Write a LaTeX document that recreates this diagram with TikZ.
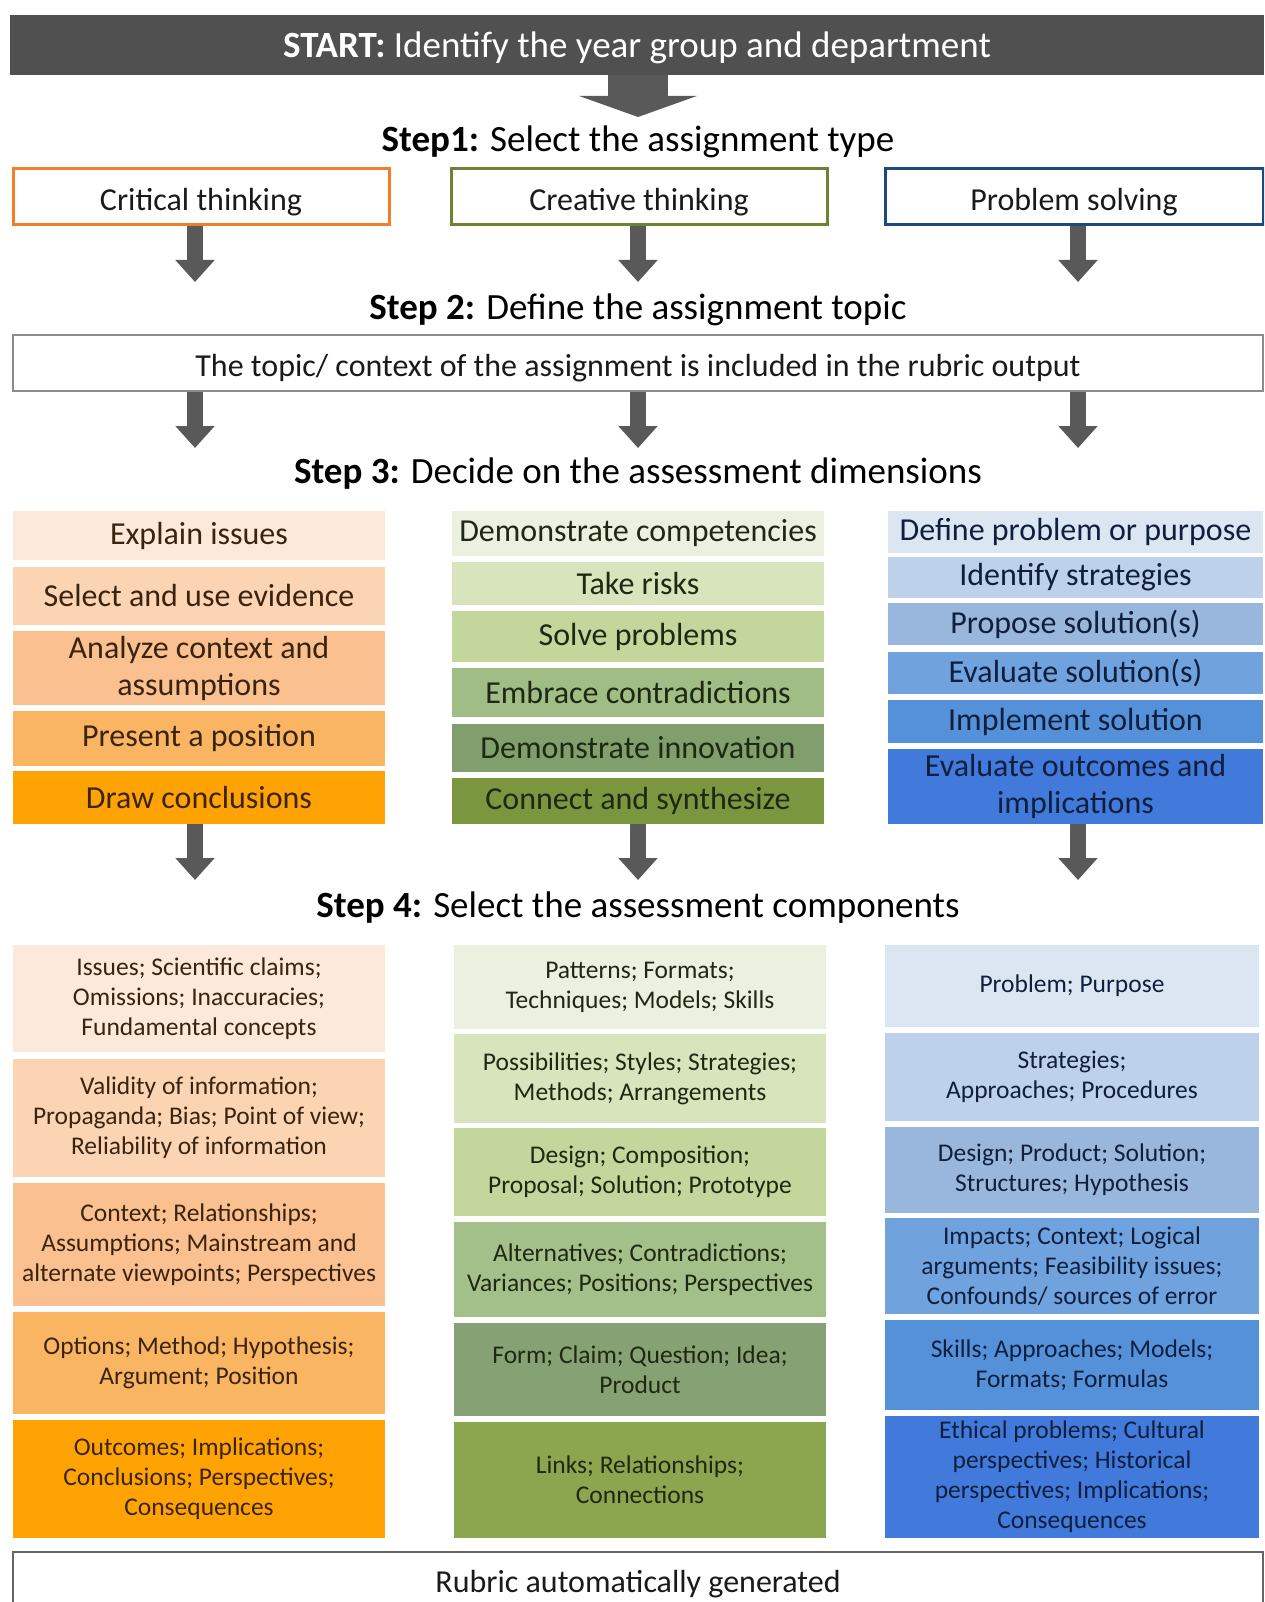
\documentclass[tikz,border=0pt]{standalone}
\usepackage{fontspec}
\setmainfont{Carlito}
\usetikzlibrary{arrows.meta}
\definecolor{barc}{HTML}{505050}
\definecolor{arr}{HTML}{595959}
\definecolor{txt}{HTML}{1A1A1A}
\definecolor{orb}{HTML}{F47D2A}
\definecolor{grb}{HTML}{6B8433}
\definecolor{blb}{HTML}{1F497D}
\definecolor{o1}{HTML}{FDE9D9}
\definecolor{o2}{HTML}{FBD4B4}
\definecolor{o3}{HTML}{FAC08F}
\definecolor{o4}{HTML}{F9B562}
\definecolor{o5}{HTML}{FFA304}
\definecolor{g1}{HTML}{EBF1DE}
\definecolor{g2}{HTML}{D7E4BC}
\definecolor{g3}{HTML}{C3D69B}
\definecolor{g4}{HTML}{9FBD84}
\definecolor{g5}{HTML}{809F6C}
\definecolor{g6}{HTML}{7A9740}
\definecolor{gc4}{HTML}{A3C08A}
\definecolor{gc5}{HTML}{86A173}
\definecolor{gc6}{HTML}{8BA64E}
\definecolor{b1}{HTML}{DCE6F2}
\definecolor{b2}{HTML}{BDD1EA}
\definecolor{b3}{HTML}{99B7DC}
\definecolor{b4}{HTML}{70A3DE}
\definecolor{b5}{HTML}{5591D8}
\definecolor{b6}{HTML}{427ADB}
\definecolor{ot}{HTML}{3A2410}
\definecolor{gt}{HTML}{1E2812}
\definecolor{bt}{HTML}{0F1F3D}
\begin{document}
\begin{tikzpicture}[x=1pt,y=-1pt,
  head/.style={text=black, inner sep=0, font=\fontsize{37}{42}\selectfont},
  typebox/.style={draw, line width=3pt, fill=white, minimum height=56, inner sep=0, text=txt,
    text height=36pt, text depth=8pt, font=\fontsize{32}{37}\selectfont},
  widebox/.style={draw, line width=2pt, fill=white, minimum width=1250, inner sep=0, text=txt, font=\fontsize{32}{37}\selectfont},
  dimbox/.style={minimum width=372, inner sep=0, align=center, font=\fontsize{32}{37}\selectfont},
  compbox/.style={minimum width=372, inner sep=0, align=center, font=\fontsize{25.5}{30}\selectfont},
  blockarrow/.style={draw=arr, line width=16pt, -{Triangle[width=38pt,length=22pt]}},
  bigarrow/.style={draw=arr, line width=60pt, -{Triangle[width=117pt,length=21pt]}}]
\clip (0,0) rectangle (1264,1602);
\fill[white] (0,0) rectangle (1264,1602);

% START bar
\node[fill=barc, minimum width=1254, minimum height=60, inner sep=0, text=white,
  text height=34pt, text depth=8.5pt,
  font=\fontsize{37}{42}\selectfont] (startbar) at (637,45)
  {\textbf{START:} Identify the year group and department};
\coordinate (bigend) at (638,117);
\draw[bigarrow] (startbar.south -| bigend) -- (bigend);

% Step 1
\node[head] (s1) at (638,142) {\textbf{Step1:} Select the assignment type};
\node[typebox, draw=orb, minimum width=376] (t1) at (201,197) {Critical thinking};
\node[typebox, draw=grb, minimum width=376] (t2) at (639,197) {Creative thinking};
\node[typebox, draw=blb, minimum width=378] (t3) at (1074,197) {Problem solving};
\coordinate (e1) at (195,282);
\coordinate (e2) at (638,282);
\coordinate (e3) at (1078,282);
\draw[blockarrow] (t1.south -| e1) -- (e1);
\draw[blockarrow] (t2.south -| e2) -- (e2);
\draw[blockarrow] (t3.south -| e3) -- (e3);

% Step 2
\node[head] (s2) at (638,310) {\textbf{Step 2:} Define the assignment topic};
\node[widebox, draw=gray!90, minimum height=56, text height=35pt, text depth=8pt] (topic) at (638,363)
  {The topic/ context of the assignment is included in the rubric output};
\coordinate (e4) at (195,448);
\coordinate (e5) at (638,448);
\coordinate (e6) at (1078,448);
\draw[blockarrow] (topic.south -| e4) -- (e4);
\draw[blockarrow] (topic.south -| e5) -- (e5);
\draw[blockarrow] (topic.south -| e6) -- (e6);

% Step 3
\node[head] (s3) at (638,474) {\textbf{Step 3:} Decide on the assessment dimensions};
\node[dimbox, fill=o1, text=ot, minimum height=49] (d11) at (199,535.5) {Explain issues};
\node[dimbox, fill=o2, text=ot, minimum height=58] (d12) at (199,596) {Select and use evidence};
\node[dimbox, fill=o3, text=ot, minimum height=74] (d13) at (199,668) {Analyze context and\\assumptions};
\node[dimbox, fill=o4, text=ot, minimum height=55] (d14) at (199,738.5) {Present a position};
\node[dimbox, fill=o5, text=ot, minimum height=53] (d15) at (199,797.5) {Draw conclusions};

\node[dimbox, fill=g1, text=gt, minimum height=45] (d21) at (638,533.5) {Demonstrate competencies};
\node[dimbox, fill=g2, text=gt, minimum height=43] (d22) at (638,583.5) {Take risks};
\node[dimbox, fill=g3, text=gt, minimum height=51] (d23) at (638,636.5) {Solve problems};
\node[dimbox, fill=g4, text=gt, minimum height=49] (d24) at (638,692.5) {Embrace contradictions};
\node[dimbox, fill=g5, text=gt, minimum height=48] (d25) at (638,748) {Demonstrate innovation};
\node[dimbox, fill=g6, text=gt, minimum height=46] (d26) at (638,801) {Connect and synthesize};

\node[dimbox, minimum width=375, fill=b1, text=bt, minimum height=42] (d31) at (1075.5,532) {Define problem or purpose};
\node[dimbox, minimum width=375, fill=b2, text=bt, minimum height=41] (d32) at (1075.5,577.5) {Identify strategies};
\node[dimbox, minimum width=375, fill=b3, text=bt, minimum height=42] (d33) at (1075.5,624) {Propose solution(s)};
\node[dimbox, minimum width=375, fill=b4, text=bt, minimum height=42] (d34) at (1075.5,673) {Evaluate solution(s)};
\node[dimbox, minimum width=375, fill=b5, text=bt, minimum height=43] (d35) at (1075.5,721.5) {Implement solution};
\node[dimbox, minimum width=375, fill=b6, text=bt, minimum height=75] (d36) at (1075.5,786.5) {Evaluate outcomes and\\implications};

\coordinate (e7) at (195,880);
\coordinate (e8) at (638,880);
\coordinate (e9) at (1078,880);
\draw[blockarrow] (d15.south -| e7) -- (e7);
\draw[blockarrow] (d26.south -| e8) -- (e8);
\draw[blockarrow] (d36.south -| e9) -- (e9);

% Step 4
\node[head] (s4) at (638,908) {\textbf{Step 4:} Select the assessment components};
\node[compbox, fill=o1, text=ot, minimum height=107] (c11) at (199,998.5) {Issues; Scientific claims;\\Omissions; Inaccuracies;\\Fundamental concepts};
\node[compbox, fill=o2, text=ot, minimum height=118] (c12) at (199,1118) {Validity of information;\\Propaganda; Bias; Point of view;\\Reliability of information};
\node[compbox, fill=o3, text=ot, minimum height=123] (c13) at (199,1244.5) {Context; Relationships;\\Assumptions; Mainstream and\\alternate viewpoints; Perspectives};
\node[compbox, fill=o4, text=ot, minimum height=102] (c14) at (199,1363) {Options; Method; Hypothesis;\\Argument; Position};
\node[compbox, fill=o5, text=ot, minimum height=118] (c15) at (199,1479) {Outcomes; Implications;\\Conclusions; Perspectives;\\Consequences};

\node[compbox, fill=g1, text=gt, minimum height=84] (c21) at (640,987) {Patterns; Formats;\\Techniques; Models; Skills};
\node[compbox, fill=g2, text=gt, minimum height=89] (c22) at (640,1078.5) {Possibilities; Styles; Strategies;\\Methods; Arrangements};
\node[compbox, fill=g3, text=gt, minimum height=88] (c23) at (640,1172) {Design; Composition;\\Proposal; Solution; Prototype};
\node[compbox, fill=gc4, text=gt, minimum height=95] (c24) at (640,1269.5) {Alternatives; Contradictions;\\Variances; Positions; Perspectives};
\node[compbox, fill=gc5, text=gt, minimum height=93] (c25) at (640,1369.5) {Form; Claim; Question; Idea;\\Product};
\node[compbox, fill=gc6, text=gt, minimum height=116] (c26) at (640,1480) {Links; Relationships;\\Connections};

\node[compbox, minimum width=374, fill=b1, text=bt, minimum height=82] (c31) at (1072,986) {Problem; Purpose};
\node[compbox, minimum width=374, fill=b2, text=bt, minimum height=88] (c32) at (1072,1077) {Strategies;\\Approaches; Procedures};
\node[compbox, minimum width=374, fill=b3, text=bt, minimum height=86] (c33) at (1072,1170) {Design; Product; Solution;\\Structures; Hypothesis};
\node[compbox, minimum width=374, fill=b4, text=bt, minimum height=96] (c34) at (1072,1266) {Impacts; Context; Logical\\arguments; Feasibility issues;\\Confounds/ sources of error};
\node[compbox, minimum width=374, fill=b5, text=bt, minimum height=90] (c35) at (1072,1365) {Skills; Approaches; Models;\\Formats; Formulas};
\node[compbox, minimum width=374, fill=b6, text=bt, minimum height=122] (c36) at (1072,1477) {Ethical problems; Cultural\\perspectives; Historical\\perspectives; Implications;\\Consequences};

% Rubric
\node[widebox, draw=gray!80!black, minimum height=64, anchor=north] (rubric) at (638,1551) {Rubric automatically generated};
\end{tikzpicture}
\end{document}
